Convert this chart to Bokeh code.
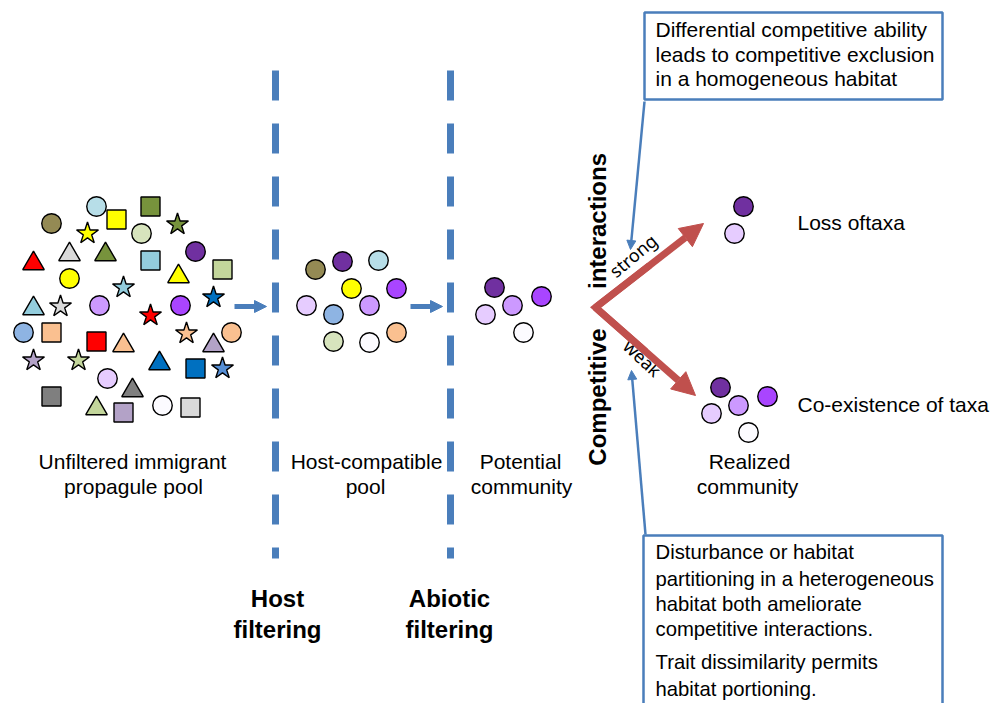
import numpy as np
from bokeh.plotting import figure
from bokeh.models import Range1d, Arrow, NormalHead, ColumnDataSource
from bokeh.core.properties import value
from bokeh.embed import file_html
from bokeh.resources import INLINE

# ---------------- data ----------------
# Unfiltered immigrant propagule pool
pool_x = [96, 116, 150, 51, 87, 141, 177, 33, 69, 105, 150, 195, 222, 69, 178, 123,
          33, 60, 99, 150, 180, 213, 23, 51, 96, 123, 186, 213, 231, 33, 78, 159, 195,
          222, 107, 132, 51, 96, 123, 162, 190]
pool_y = [206, 219, 206, 223, 233, 233, 224, 263, 254, 254, 260, 251, 269, 278, 276, 287,
          308, 306, 305, 315, 305, 297, 332, 332, 341, 345, 333, 345, 332, 360, 360, 363, 368,
          368, 378, 390, 396, 408, 412, 405, 407]
pool_shape = ["circle", "square", "square", "circle", "star", "circle", "star", "triangle",
              "triangle", "triangle", "square", "circle", "square", "circle", "triangle", "star",
              "triangle", "star", "circle", "star", "circle", "star", "circle", "square", "square",
              "triangle", "star", "triangle", "circle", "star", "star", "triangle", "square",
              "star", "circle", "triangle", "square", "triangle", "square", "circle", "square"]
pool_color = ["#B7DEE8", "#FFFF00", "#77933C", "#948A54", "#FFFF00", "#D7E4BD", "#77933C", "#FF0000",
              "#D9D9D9", "#77933C", "#93CDDD", "#7030A0", "#C3D69B", "#FFFF00", "#FFFF00", "#93CDDD",
              "#93CDDD", "#D9D9D9", "#CC99FF", "#FF0000", "#A945FF", "#0070C0", "#8EB4E3", "#FAC090",
              "#FF0000", "#FAC090", "#FAC090", "#B3A2C7", "#FAC090", "#B3A2C7", "#C3D69B", "#0070C0",
              "#0070C0", "#558ED5", "#E6CCFF", "#7F7F7F", "#7F7F7F", "#C3D69B", "#B3A2C7", "#FCFBFF",
              "#D9D9D9"]

# Host-compatible pool
host_x = [315, 342, 378, 351, 396, 306, 369, 333, 333, 369, 396]
host_y = [269, 261, 260, 288, 288, 305, 305, 314, 341, 342, 332]
host_color = ["#948A54", "#7030A0", "#B7DEE8", "#FFFF00", "#A945FF", "#E6CCFF", "#CC99FF",
              "#8EB4E3", "#D7E4BD", "#FCFBFF", "#FAC090"]

# Potential community
pot_x = [494, 541, 512, 485, 523]
pot_y = [287, 296, 305, 314, 332]
pot_color = ["#7030A0", "#A945FF", "#CC99FF", "#E6CCFF", "#FCFBFF"]

# Strong interactions -> loss of taxa
loss_x = [743, 734]
loss_y = [206, 233]
loss_color = ["#7030A0", "#E6CCFF"]

# Weak interactions -> realized community
real_x = [720, 767, 738, 711, 748]
real_y = [387, 396, 405, 413, 432]
real_color = ["#7030A0", "#A945FF", "#CC99FF", "#E6CCFF", "#FCFBFF"]

marker_size = {"circle": 19.5, "square": 19, "triangle": 21.5, "star": 23}

# filter lines
filter_x = [275, 450]
filter_top, filter_bottom = 70, 558

# small blue flow arrows
flow_x0 = [234, 410]
flow_x1 = [266, 442]
flow_y = [306, 306]

# red branching arrows (vertex -> tips)
vertex = (595, 307)
tips_x = [703, 695]
tips_y = [223, 395]

# callout connectors (box -> arrow tip)
conn_x0 = [644, 645]
conn_y0 = [101, 534]
conn_x1 = [630, 631]
conn_y1 = [249, 370]

# boxes
box_left = [644, 643]
box_right = [942, 942]
box_top = [12, 535]
box_bottom = [99, 720]

top_box_lines = ["Differential competitive ability", "leads to competitive exclusion",
                 "in a homogeneous habitat"]
top_box_y = [28.5, 53.5, 77.5]
low_box_lines = ["Disturbance or habitat", "partitioning in a heterogeneous",
                 "habitat both ameliorate", "competitive interactions.",
                 "Trait dissimilarity permits", "habitat portioning."]
low_box_y = [551.5, 578, 603, 628, 661.5, 688]

label_text = ["Unfiltered immigrant", "propagule pool", "Host-compatible", "pool",
              "Potential", "community", "Realized", "community"]
label_x = [132, 133, 366, 365, 520, 521, 749, 747]
label_y = [461, 486, 461, 486, 461, 486, 461, 486]

bold_text = ["Host", "filtering", "Abiotic", "filtering"]
bold_x = [277, 277, 449, 449]
bold_y = [598, 629, 598, 629]

outcome_text = ["Loss oftaxa", "Co-existence of taxa"]
outcome_x = [797, 797]
outcome_y = [222, 404]

BLUE = "#4A7EBB"
RED = "#C0504D"
FONT = value("Liberation Sans")

# ---------------- figure ----------------
W, H = 1001, 703
p = figure(width=W, height=H, x_range=Range1d(0, W), y_range=Range1d(H, 0),
           output_backend="svg", toolbar_location=None, min_border=0,
           x_axis_location=None, y_axis_location=None)
p.grid.visible = False
p.outline_line_color = None
p.background_fill_color = "white"

# dashed filters
p.segment(x0=filter_x, y0=[filter_top] * 2, x1=filter_x, y1=[filter_bottom] * 2,
          line_color=BLUE, line_width=7, line_dash="30 23")

# markers
src = ColumnDataSource(dict(x=pool_x, y=pool_y, marker=pool_shape, color=pool_color,
                            size=[marker_size[s] for s in pool_shape]))
p.scatter("x", "y", marker="marker", size="size", fill_color="color", line_color="black",
          line_width=1.4, source=src)
for xs, ys, cs in [(host_x, host_y, host_color), (pot_x, pot_y, pot_color),
                   (loss_x, loss_y, loss_color), (real_x, real_y, real_color)]:
    p.scatter(xs, ys, marker="circle", size=marker_size["circle"], fill_color=cs,
              line_color="black", line_width=1.4)

# flow arrows
for x0, x1, y in zip(flow_x0, flow_x1, flow_y):
    p.add_layout(Arrow(end=NormalHead(size=12, fill_color=BLUE, line_color=BLUE, line_width=1),
                       x_start=x0, y_start=y, x_end=x1, y_end=y,
                       line_color=BLUE, line_width=5))

# red arrows
for tx, ty in zip(tips_x, tips_y):
    p.add_layout(Arrow(end=NormalHead(size=23, fill_color=RED, line_color=RED, line_width=1),
                       x_start=vertex[0], y_start=vertex[1], x_end=tx, y_end=ty,
                       line_color=RED, line_width=7))
mid_x = [(vertex[0] + tips_x[0]) / 2, vertex[0], (vertex[0] + tips_x[1]) / 2]
mid_y = [(vertex[1] + tips_y[0]) / 2, vertex[1], (vertex[1] + tips_y[1]) / 2]
p.line(mid_x, mid_y, line_color=RED, line_width=7, line_join="miter")

# connectors
for x0, y0, x1, y1 in zip(conn_x0, conn_y0, conn_x1, conn_y1):
    p.add_layout(Arrow(end=NormalHead(size=9, fill_color=BLUE, line_color=BLUE, line_width=1),
                       x_start=x0, y_start=y0, x_end=x1, y_end=y1,
                       line_color=BLUE, line_width=2.5))

# boxes
p.quad(left=box_left, right=box_right, top=box_top, bottom=box_bottom,
       fill_color="white", line_color=BLUE, line_width=2.5)

# texts
p.text(x=[655] * 3, y=top_box_y, text=top_box_lines, text_font=FONT,
       text_font_size="21px", text_color="black", text_align="left",
       text_baseline="alphabetic")
p.text(x=[655] * 6, y=low_box_y, text=low_box_lines, text_font=FONT,
       text_font_size="20.3px", text_color="black", text_align="left",
       text_baseline="alphabetic")
p.text(x=label_x, y=label_y, text=label_text, text_font=FONT, text_font_size="21px",
       text_color="black", text_align="center", text_baseline="alphabetic")
p.text(x=outcome_x, y=outcome_y, text=outcome_text, text_font=FONT, text_font_size="21px",
       text_color="black", text_align="left", text_baseline="alphabetic")
p.text(x=bold_x, y=bold_y, text=bold_text, text_font=FONT, text_font_size="24px",
       text_font_style="bold", text_color="black", text_align="center",
       text_baseline="alphabetic")

# Competitive interactions (vertical)
p.text(x=[597, 597], y=[220.5, 396.5], text=["interactions", "Competitive"], text_font=FONT,
       text_font_size="24px", text_font_style="bold", text_color="black",
       text_align="center", text_baseline="alphabetic", angle=np.pi / 2)

# strong / weak
p.text(x=[632.5], y=[255], text=["strong"], text_font=value("Noto Sans"),
       text_font_size="18px", text_color="black", text_align="center",
       text_baseline="alphabetic", angle=np.deg2rad(40))
p.text(x=[642], y=[357.5], text=["weak"], text_font=value("Noto Sans"),
       text_font_size="18px", text_color="black", text_align="center",
       text_baseline="alphabetic", angle=np.deg2rad(-43))

open("out.html", "w").write(file_html(p, INLINE))
